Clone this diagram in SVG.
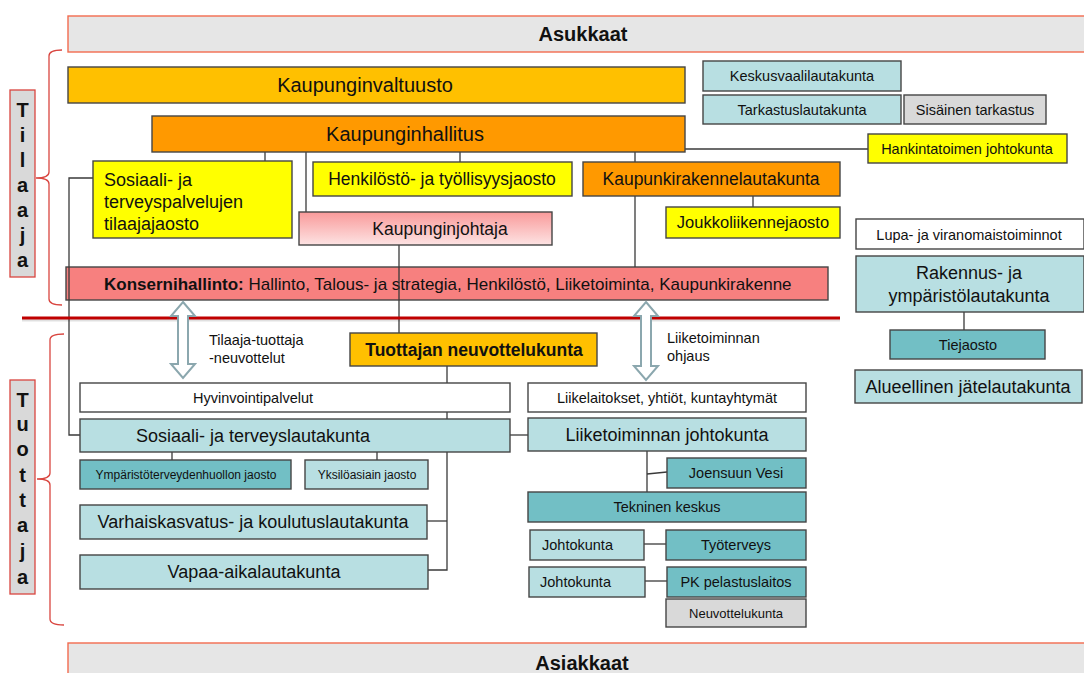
<svg xmlns="http://www.w3.org/2000/svg" width="1084" height="673" viewBox="0 0 1084 673">
<defs>
<style>
text{font-family:"Liberation Sans",Arial,sans-serif;fill:#111}
.b{stroke:#454545;stroke-width:1.4}
.y{fill:#ffff00}.o{fill:#ff9900}.g{fill:#ffc000}.lt{fill:#b8dfe2}.dt{fill:#72bfc5}.gr{fill:#d9d9d9}.w{fill:#ffffff}
.c{fill:none;stroke:#3a3a3a;stroke-width:1.3}
.br{fill:none;stroke:#d9453f;stroke-width:1.3}
.lab{fill:#d9d9d9;stroke:#d9453f;stroke-width:1.3}
.lt20{font-size:20px;font-weight:bold;text-anchor:middle}
.m{text-anchor:middle}
.s20{font-size:20px}.s18{font-size:18px}.s17{font-size:17.5px}.s16{font-size:16.5px}.s14{font-size:14.5px}.s12{font-size:12px}
.arr{fill:#ffffff;stroke:#8ba7ae;stroke-width:2}
</style>
<linearGradient id="pink" x1="0" y1="0" x2="0" y2="1">
<stop offset="0" stop-color="#f99a9a"/>
<stop offset="1" stop-color="#fde3e3"/>
</linearGradient>
</defs>
<rect width="1084" height="673" fill="#ffffff"/>

<g id="asukkaat"><rect x="68" y="16" width="1030" height="36" fill="#e6e6e6" stroke="#f26b4f" stroke-width="1.4"/><text x="583" y="41" style="font-size:20px;font-weight:bold" class="m">Asukkaat</text></g>
<g id="asiakkaat"><rect x="68" y="643" width="1030" height="40" fill="#e6e6e6" stroke="#f26b4f" stroke-width="1.4"/><text x="582" y="670" style="font-size:20px;font-weight:bold" class="m">Asiakkaat</text></g>

<g id="tilaaja-label"><rect x="10" y="90" width="25" height="187" class="lab"/>
<text class="lt20" x="22.5" y="117">T</text><text class="lt20" x="22.5" y="142">i</text><text class="lt20" x="22.5" y="167">l</text><text class="lt20" x="22.5" y="192">a</text><text class="lt20" x="22.5" y="217">a</text><text class="lt20" x="22.5" y="242">j</text><text class="lt20" x="22.5" y="267">a</text></g>
<path class="br" d="M62 50 Q49 50 49 56 L49 172 Q49 178 36 178 Q49 178 49 184 L49 299 Q49 305 62 305"/>

<g id="tuottaja-label"><rect x="10" y="380" width="25" height="214" class="lab"/>
<text class="lt20" x="22.5" y="407">T</text><text class="lt20" x="22.5" y="431">u</text><text class="lt20" x="22.5" y="456">o</text><text class="lt20" x="22.5" y="482">t</text><text class="lt20" x="22.5" y="507">t</text><text class="lt20" x="22.5" y="532">a</text><text class="lt20" x="22.5" y="558">j</text><text class="lt20" x="22.5" y="584">a</text></g>
<path class="br" d="M64 334 Q50 334 50 340 L50 473 Q50 479 37 479 Q50 479 50 485 L50 619 Q50 625 64 625"/>

<g id="konsernihallinto"><rect x="66" y="267" width="762" height="33" fill="#f7807f" class="b"/><text x="104" y="290" style="font-size:17px"><tspan font-weight="bold">Konsernihallinto:</tspan> Hallinto, Talous- ja strategia, Henkilöstö, Liiketoiminta, Kaupunkirakenne</text></g>

<g id="connectors">
<line class="c" x1="685" y1="149" x2="868" y2="149"/>
<line class="c" x1="265" y1="152" x2="265" y2="162"/>
<line class="c" x1="306" y1="152" x2="306" y2="212"/>
<line class="c" x1="460" y1="152" x2="460" y2="162"/>
<line class="c" x1="635" y1="152" x2="635" y2="163"/>
<line class="c" x1="635" y1="196" x2="635" y2="267"/>
<line class="c" x1="753" y1="196" x2="753" y2="207"/>
<line class="c" x1="399" y1="245" x2="399" y2="333"/>
<polyline class="c" points="93,178 69,178 69,435 80,435"/>
<line class="c" x1="964" y1="312" x2="964" y2="330"/>
<line class="c" x1="510" y1="435" x2="528" y2="435"/>
<polyline class="c" points="447,366 447,570 428,570"/>
<line class="c" x1="427" y1="521" x2="447" y2="521"/>
<line class="c" x1="172" y1="452" x2="172" y2="460"/>
<line class="c" x1="377" y1="452" x2="377" y2="460"/>
<line class="c" x1="647" y1="451" x2="647" y2="492"/>
<line class="c" x1="647" y1="474" x2="667" y2="472"/>
<line class="c" x1="644" y1="544" x2="666" y2="544"/>
<line class="c" x1="645" y1="581" x2="667" y2="581"/>
</g>

<g id="redline"><line x1="22" y1="320" x2="840" y2="320" stroke="#000" stroke-opacity="0.12" stroke-width="3"/><line x1="22" y1="318" x2="840" y2="318" stroke="#c00000" stroke-width="3"/></g>

<g id="kaupunginvaltuusto"><rect x="68" y="67" width="617" height="36" class="b g"/><text x="365" y="92" class="s20 m">Kaupunginvaltuusto</text></g>
<g id="kaupunginhallitus"><rect x="152" y="116" width="533" height="36" class="b o"/><text x="405" y="141" class="s20 m">Kaupunginhallitus</text></g>
<g id="keskusvaalilautakunta"><rect x="703" y="61" width="198" height="30" class="b lt"/><text x="802" y="81" class="s14 m">Keskusvaalilautakunta</text></g>
<g id="tarkastuslautakunta"><rect x="703" y="95" width="198" height="29" class="b lt"/><text x="802" y="115" class="s14 m">Tarkastuslautakunta</text></g>
<g id="sisainen"><rect x="904" y="95" width="142" height="29" class="b gr"/><text x="975" y="115" class="s14 m">Sisäinen tarkastus</text></g>
<g id="hankinta"><rect x="868" y="134" width="199" height="29" class="b y"/><text x="967" y="154" class="s14 m">Hankintatoimen johtokunta</text></g>
<g id="sote-tilaaja"><rect x="93" y="161" width="199" height="77" class="b y"/><text class="s18" x="104" y="186">Sosiaali- ja</text><text class="s18" x="104" y="208">terveyspalvelujen</text><text class="s18" x="104" y="230">tilaajajaosto</text></g>
<g id="henkilosto"><rect x="313" y="162" width="259" height="34" class="b y"/><text x="442" y="185" class="s17 m">Henkilöstö- ja työllisyysjaosto</text></g>
<g id="kaupunkirakenne"><rect x="583" y="162" width="257" height="34" class="b o"/><text x="711" y="185" class="s17 m">Kaupunkirakennelautakunta</text></g>
<g id="kaupunginjohtaja"><rect x="299" y="212" width="253" height="33" class="b" fill="url(#pink)"/><text x="440" y="235" class="s17 m">Kaupunginjohtaja</text></g>
<g id="joukkoliikenne"><rect x="666" y="207" width="174" height="31" class="b y"/><text x="753" y="228" class="s16 m">Joukkoliikennejaosto</text></g>
<g id="lupa"><rect x="856" y="219" width="228" height="30" class="b w"/><text x="969" y="240" class="s14 m">Lupa- ja viranomaistoiminnot</text></g>
<g id="rakennus"><rect x="856" y="256" width="228" height="56" class="b lt"/><text class="s18 m" x="969" y="279">Rakennus- ja</text><text class="s18 m" x="969" y="302">ympäristölautakunta</text></g>
<g id="tiejaosto"><rect x="890" y="330" width="155" height="29" class="b dt"/><text x="968" y="350" class="s14 m">Tiejaosto</text></g>
<g id="alueellinen"><rect x="855" y="370" width="227" height="33" class="b lt"/><text x="968" y="393" class="s18 m">Alueellinen jätelautakunta</text></g>

<g id="arrow-left"><path class="arr" d="M183 302 L195 316 L188 316 L188 364 L195 364 L183 378 L171 364 L178 364 L178 316 L171 316 Z"/></g>
<g id="arrow-right"><path class="arr" d="M646 302 L658 316 L651 316 L651 366 L658 366 L646 380 L634 366 L641 366 L641 316 L634 316 Z"/></g>
<g id="lbl-tilaaja-tuottaja"><text class="s14" x="209" y="345">Tilaaja-tuottaja</text><text class="s14" x="209" y="363">-neuvottelut</text></g>
<g id="lbl-liiketoiminnan"><text class="s14" x="667" y="343">Liiketoiminnan</text><text class="s14" x="667" y="361">ohjaus</text></g>

<g id="tuottajan"><rect x="350" y="333" width="247" height="33" class="b g"/><text x="474" y="356" class="s17 m" font-weight="bold">Tuottajan neuvottelukunta</text></g>
<g id="hyvinvointi"><rect x="80" y="383" width="430" height="29" class="b w"/><text x="253" y="403" class="s14 m">Hyvinvointipalvelut</text></g>
<g id="sote-lautakunta"><rect x="80" y="419" width="430" height="33" class="b lt"/><text x="253" y="442" class="s18 m">Sosiaali- ja terveyslautakunta</text></g>
<g id="ymparisto"><rect x="80" y="460" width="211" height="29" class="b dt"/><text x="186" y="479" class="s12 m">Ympäristöterveydenhuollon jaosto</text></g>
<g id="yksiloasiain"><rect x="305" y="460" width="123" height="29" class="b lt"/><text x="367" y="479" class="s12 m">Yksilöasiain jaosto</text></g>
<g id="varhaiskasvatus"><rect x="80" y="505" width="347" height="34" class="b lt"/><text x="253" y="528" class="s18 m">Varhaiskasvatus- ja koulutuslautakunta</text></g>
<g id="vapaa-aika"><rect x="80" y="555" width="348" height="34" class="b lt"/><text x="254" y="578" class="s18 m">Vapaa-aikalautakunta</text></g>
<g id="liikelaitokset"><rect x="528" y="383" width="278" height="29" class="b w"/><text x="667" y="403" class="s14 m">Liikelaitokset, yhtiöt, kuntayhtymät</text></g>
<g id="liiketoiminnan-johtokunta"><rect x="528" y="418" width="278" height="33" class="b lt"/><text x="667" y="441" class="s18 m">Liiketoiminnan johtokunta</text></g>
<g id="joensuun-vesi"><rect x="667" y="458" width="139" height="30" class="b dt"/><text x="736" y="478" class="s14 m">Joensuun Vesi</text></g>
<g id="tekninen"><rect x="528" y="492" width="278" height="30" class="b dt"/><text x="667" y="512" class="s14 m">Tekninen keskus</text></g>
<g id="johtokunta1"><rect x="530" y="530" width="114" height="30" class="b lt"/><text x="542" y="550" class="s14">Johtokunta</text></g>
<g id="tyoterveys"><rect x="666" y="530" width="140" height="30" class="b dt"/><text x="736" y="550" class="s14 m">Työterveys</text></g>
<g id="johtokunta2"><rect x="529" y="567" width="116" height="30" class="b lt"/><text x="540" y="587" class="s14">Johtokunta</text></g>
<g id="pk-pelastus"><rect x="667" y="567" width="139" height="30" class="b dt"/><text x="736" y="587" class="s14 m">PK pelastuslaitos</text></g>
<g id="neuvottelukunta"><rect x="666" y="599" width="140" height="28" class="b gr"/><text x="736" y="618" class="m" style="font-size:13px">Neuvottelukunta</text></g>
</svg>
